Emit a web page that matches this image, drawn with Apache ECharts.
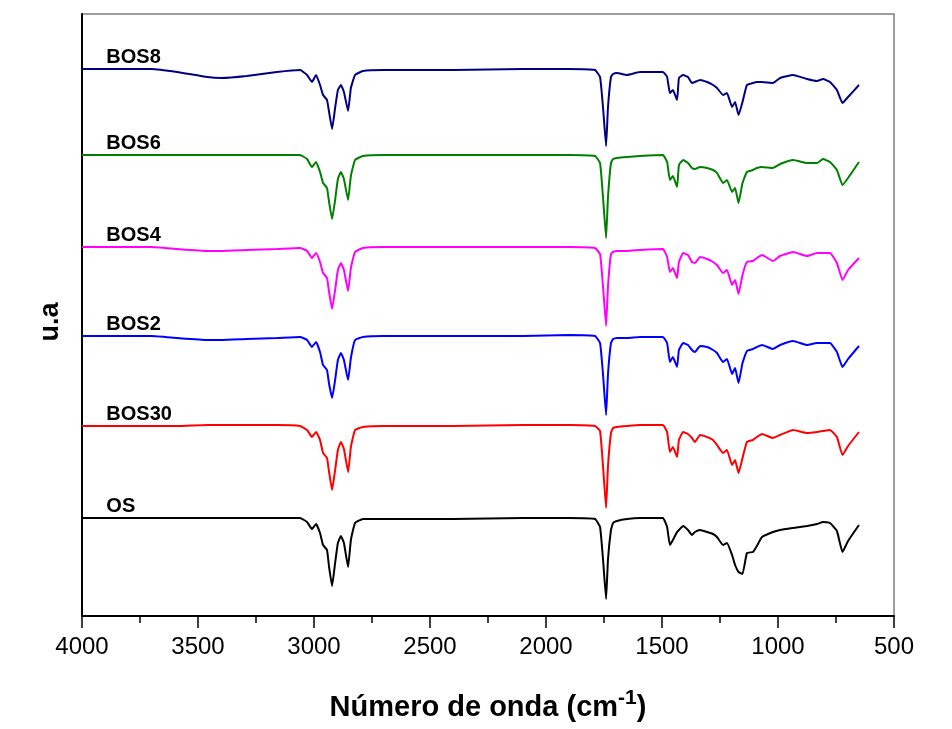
<!DOCTYPE html>
<html>
<head>
<meta charset="utf-8">
<script src="https://cdn.jsdelivr.net/npm/echarts@6/dist/echarts.min.js"></script>
<style>
html, body { margin: 0; padding: 0; background: #fff; }
#container { width: 952px; height: 729px; }
</style>
</head>
<body>
<div id="container"></div>
<script>
// numero de onda (cm-1), comun a todas las curvas
var wavenumbers = [4000, 3700, 3590, 3460, 3400, 3290, 3160, 3060, 3030, 3009, 2991, 2974, 2961, 2944, 2935, 2922, 2909, 2897, 2884, 2871,
    2853, 2841, 2823, 2789, 2700, 2400, 2100, 1900, 1789, 1767, 1754, 1741, 1733, 1720, 1711, 1694, 1651, 1595, 1496,
    1478, 1466, 1453, 1435, 1427, 1409, 1388, 1371, 1358, 1336, 1306, 1280, 1263, 1237, 1220, 1198, 1185, 1170, 1153, 1134,
    1108, 1091, 1069, 1022, 991, 935, 875, 832, 806, 776, 746, 722, 698, 651];

// u.a (curvas desplazadas)
var os = [98, 98, 98, 98, 98, 98, 98, 98, 94, 87, 92, 83, 71, 66, 49, 30, 53, 73, 80, 73,
    49, 76, 93, 97, 97, 97, 98, 98, 97, 89, 56, 17, 56, 86, 93, 95, 97, 98, 98,
    89, 71, 76, 84, 86, 90, 86, 81, 84, 86, 84, 82, 79, 71, 73, 61, 51, 44, 42, 63,
    64, 70, 79, 84, 86, 88, 90, 92, 94, 93, 85, 64, 75, 91];
var bos30 = [190, 190, 190, 191, 191, 191, 191, 190, 186, 179, 184, 176, 163, 158, 144, 126, 146, 166, 174, 167,
    144, 169, 186, 189, 190, 190, 191, 191, 190, 185, 149, 108, 149, 183, 188, 189, 190, 191, 191,
    184, 164, 169, 159, 176, 184, 182, 178, 174, 181, 179, 176, 171, 163, 166, 151, 156, 143, 158, 174,
    176, 179, 182, 178, 181, 186, 183, 184, 185, 186, 179, 161, 170, 184];
var bos2 = [280, 280, 278, 276, 276, 277, 278, 279, 276, 269, 274, 264, 251, 246, 232, 218, 236, 256, 263, 256,
    236, 258, 276, 279, 280, 280, 280, 281, 280, 273, 241, 201, 241, 273, 277, 278, 278, 279, 279,
    273, 254, 259, 249, 266, 273, 271, 266, 264, 270, 269, 266, 263, 254, 257, 242, 248, 233, 253, 265,
    267, 269, 271, 267, 271, 275, 271, 273, 273, 273, 264, 249, 257, 270];
var bos4 = [369, 369, 367, 365, 365, 366, 367, 368, 365, 358, 363, 354, 343, 338, 324, 307, 326, 346, 353, 346,
    325, 348, 364, 368, 369, 369, 369, 369, 368, 362, 329, 290, 329, 362, 364, 365, 365, 366, 367,
    359, 344, 348, 338, 354, 363, 361, 354, 353, 359, 357, 354, 351, 343, 346, 331, 336, 322, 341, 354,
    355, 358, 361, 355, 360, 364, 360, 363, 363, 363, 353, 336, 346, 358];
var bos6 = [461, 461, 461, 461, 461, 461, 461, 461, 457, 449, 454, 444, 433, 428, 414, 397, 416, 437, 444, 437,
    416, 440, 456, 460, 461, 461, 461, 461, 460, 453, 418, 378, 418, 453, 457, 458, 459, 460, 461,
    454, 436, 440, 429, 451, 456, 453, 448, 447, 449, 448, 446, 443, 433, 436, 424, 428, 413, 433, 444,
    446, 448, 449, 448, 452, 456, 453, 453, 457, 454, 446, 431, 438, 454];
var bos8 = [547, 547, 544, 539, 538, 540, 544, 546, 541, 534, 541, 531, 521, 516, 504, 487, 508, 526, 531, 524,
    505, 528, 541, 545, 546, 546, 547, 547, 546, 539, 508, 470, 508, 539, 542, 543, 541, 544, 544,
    539, 523, 526, 516, 538, 541, 539, 533, 534, 536, 534, 531, 528, 521, 523, 509, 514, 501, 514, 531,
    533, 534, 534, 533, 538, 541, 537, 535, 537, 534, 526, 513, 519, 531];

var names = ['OS', 'BOS30', 'BOS2', 'BOS4', 'BOS6', 'BOS8'];
var curves = [os, bos30, bos2, bos4, bos6, bos8];
var colors = ['#000000', '#ff0000', '#0000ff', '#ff00ff', '#008000', '#000080'];

var FONT = 'Liberation Sans, Arial, sans-serif';

var dom = document.getElementById("container");
var myChart = echarts.init(dom);
var option = null;

var series = [];
for (var k = 0; k < curves.length; k++) {
    var arr = curves[k];
    series.push({
        name: names[k],
        type: 'line',
        data: wavenumbers.map(function (w, i) { return [w, arr[i]]; }),
        showSymbol: false,
        smooth: 0.12,
        lineStyle: { color: colors[k], width: 2 },
        itemStyle: { color: colors[k] },
        markPoint: {
            silent: true,
            symbol: 'circle',
            symbolSize: 0,
            label: {
                show: true,
                formatter: names[k],
                position: [0, -22],
                color: '#000',
                fontFamily: FONT,
                fontWeight: 'bold',
                fontSize: 20
            },
            data: [{ coord: [3895, arr[0]] }]
        }
    });
}

option = {
    backgroundColor: '#ffffff',
    animation: false,
    grid: {
        left: 82, right: 58, top: 14, bottom: 113,
        show: true,
        borderColor: '#808080',
        borderWidth: 1.5
    },
    xAxis: {
        type: 'value',
        inverse: true,
        min: 500,
        max: 4000,
        interval: 500,
        name: 'Número de onda (cm{sup|-1})',
        nameLocation: 'middle',
        nameGap: 72,
        nameTextStyle: {
            fontFamily: FONT, fontWeight: 'bold', fontSize: 29, color: '#000',
            rich: {
                sup: { fontFamily: FONT, fontWeight: 'bold', fontSize: 21, color: '#000', verticalAlign: 'top', padding: [0, 0, 18, 0] }
            }
        },
        axisLine: { lineStyle: { color: '#000', width: 2 } },
        axisTick: { inside: false, length: 12, lineStyle: { color: '#000', width: 1.5 } },
        minorTick: { show: true, splitNumber: 2, length: 7, lineStyle: { color: '#000', width: 1.5 } },
        axisLabel: {
            fontFamily: FONT, fontSize: 24, color: '#000', margin: 19,
            formatter: function (v) { return String(v); }
        },
        splitLine: { show: false }
    },
    yAxis: {
        type: 'value',
        min: 0,
        max: 602,
        name: 'u.a',
        nameLocation: 'middle',
        nameGap: 18,
        nameTextStyle: { fontFamily: FONT, fontWeight: 'bold', fontSize: 27, color: '#000', padding: [0, 14, 0, 0] },
        axisLine: { show: true, lineStyle: { color: '#000', width: 2 } },
        axisTick: { show: false },
        axisLabel: { show: false },
        splitLine: { show: false }
    },
    series: series
};

if (option && typeof option === "object") {
    myChart.setOption(option, true);
}
</script>
</body>
</html>
